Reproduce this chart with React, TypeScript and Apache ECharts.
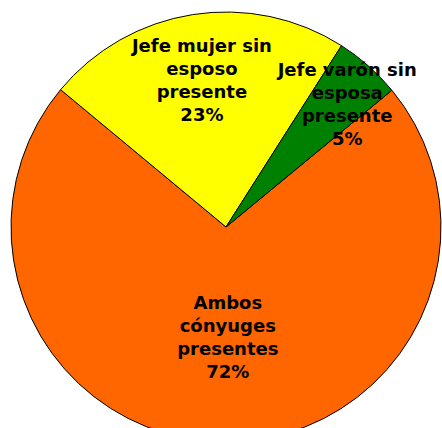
import React, { useEffect, useRef } from "react";
import * as echarts from "echarts";

const categories = [
  "Ambos\ncónyuges\npresentes",
  "Jefe mujer sin\nesposo\npresente",
  "Jefe varón sin\nesposa\npresente",
];
const values = [72, 23, 5];
const colors = ["#FF6600", "#FFFF00", "#008000"];
const labelShift = [
  [2, 0],
  [-7, -38],
  [48, -40],
];

export default function App() {
  const ref = useRef<HTMLDivElement>(null);
  useEffect(() => {
    const chart = echarts.init(ref.current!, undefined, { renderer: "svg" });
    chart.setOption({
      animation: false,
      series: [
        {
          type: "pie",
          center: [226, 227],
          radius: 215,
          startAngle: 39.5,
          clockwise: true,
          silent: true,
          data: categories.map((name, i) => ({
            name,
            value: values[i],
            itemStyle: { color: colors[i] },
          })),
          itemStyle: { borderColor: "#000", borderWidth: 1 },
          label: {
            show: true,
            position: "inside",
            formatter: (p: any) => `${p.name}\n${Math.round(p.percent)}%`,
            color: "#000",
            fontFamily: "DejaVu Sans",
            fontWeight: "bold",
            fontSize: 18,
            lineHeight: 23,
            align: "center",
          },
          labelLine: { show: false },
          labelLayout: (p: any) => ({
            dx: labelShift[p.dataIndex][0],
            dy: labelShift[p.dataIndex][1],
          }),
        },
      ],
    });
    return () => chart.dispose();
  }, []);
  return <div ref={ref} style={{ width: 442, height: 428, position: "absolute", left: 0, top: 0 }} />;
}
